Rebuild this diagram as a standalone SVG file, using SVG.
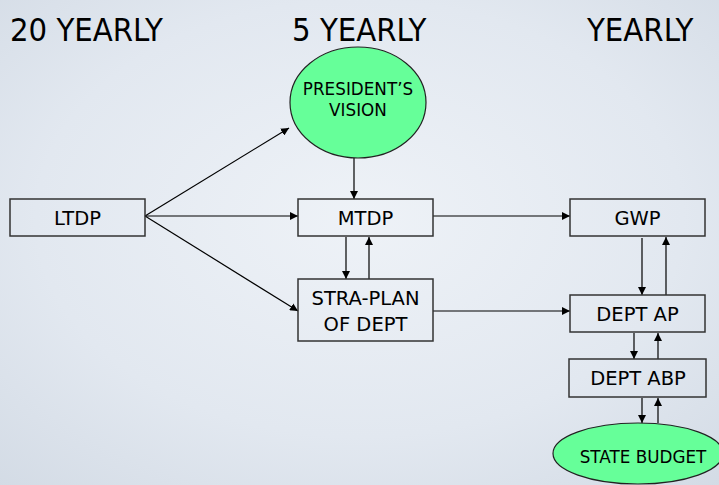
<svg xmlns="http://www.w3.org/2000/svg" width="719" height="485" viewBox="0 0 719 485">
<defs>
<radialGradient id="bg" cx="0.5" cy="0.45" r="0.75">
<stop offset="0" stop-color="#eef2f7"/>
<stop offset="0.6" stop-color="#e2e8f0"/>
<stop offset="1" stop-color="#d3dbe5"/>
</radialGradient>
<marker id="ah" viewBox="0 0 10 10" refX="10" refY="5" markerWidth="8" markerHeight="8" markerUnits="userSpaceOnUse" orient="auto">
<path d="M0,0 L10,5 L0,10 z" fill="#000"/>
</marker>
<style>
.box{fill:none;stroke:#333;stroke-width:1.5}
.ell{fill:#66ff99;stroke:#222;stroke-width:1.2}
.t{font-family:"DejaVu Sans",Verdana,sans-serif;fill:#000;text-anchor:middle}
.bt{font-size:19.5px}
.et{font-size:16.8px}
.title{font-family:"DejaVu Sans Condensed","DejaVu Sans",sans-serif;font-size:32.5px;fill:#000}
.c{stroke:#000;stroke-width:1.2;fill:none;marker-end:url(#ah)}
</style>
</defs>
<rect width="719" height="485" fill="url(#bg)"/>
<text class="title" x="10" y="41">20 YEARLY</text>
<text class="title" x="292" y="41">5 YEARLY</text>
<text class="title" x="587" y="41">YEARLY</text>
<g id="connectors">
<line class="c" x1="145" y1="216" x2="289" y2="128"/>
<line class="c" x1="145" y1="216" x2="298" y2="216"/>
<line class="c" x1="145" y1="216" x2="298" y2="311"/>
<line class="c" x1="354" y1="158" x2="354" y2="199"/>
<line class="c" x1="346" y1="237" x2="346" y2="279"/>
<line class="c" x1="369" y1="279" x2="369" y2="237"/>
<line class="c" x1="433" y1="216" x2="570" y2="216"/>
<line class="c" x1="433" y1="311" x2="570" y2="311"/>
<line class="c" x1="642" y1="238" x2="642" y2="295"/>
<line class="c" x1="666" y1="295" x2="666" y2="237"/>
<line class="c" x1="634" y1="333" x2="634" y2="359"/>
<line class="c" x1="658" y1="359" x2="658" y2="333"/>
<line class="c" x1="642" y1="398" x2="642" y2="423"/>
<line class="c" x1="658" y1="423" x2="658" y2="398"/>
</g>
<g id="vision">
<ellipse class="ell" cx="358" cy="102.5" rx="68" ry="55.5"/>
<text class="t et" x="358" y="95">PRESIDENT’S</text>
<text class="t et" x="358" y="116">VISION</text>
</g>
<g id="ltdp">
<rect class="box" x="10" y="199" width="135" height="37"/>
<text class="t bt" x="77.5" y="225">LTDP</text>
</g>
<g id="mtdp">
<rect class="box" x="298" y="199" width="135" height="37"/>
<text class="t bt" x="365.5" y="225">MTDP</text>
</g>
<g id="straplan">
<rect class="box" x="298" y="279" width="135" height="62"/>
<text class="t bt" x="365.5" y="305">STRA-PLAN</text>
<text class="t bt" x="365.5" y="331">OF DEPT</text>
</g>
<g id="gwp">
<rect class="box" x="570" y="199" width="135" height="37"/>
<text class="t bt" x="637.5" y="225">GWP</text>
</g>
<g id="deptap">
<rect class="box" x="570" y="295" width="135" height="37"/>
<text class="t bt" x="637.5" y="321">DEPT AP</text>
</g>
<g id="deptabp">
<rect class="box" x="569" y="359" width="137" height="38"/>
<text class="t bt" x="638" y="385">DEPT ABP</text>
</g>
<g id="statebudget">
<ellipse class="ell" cx="638" cy="453.5" rx="85" ry="30.5"/>
<text class="t et" x="643" y="463">STATE BUDGET</text>
</g>
</svg>
